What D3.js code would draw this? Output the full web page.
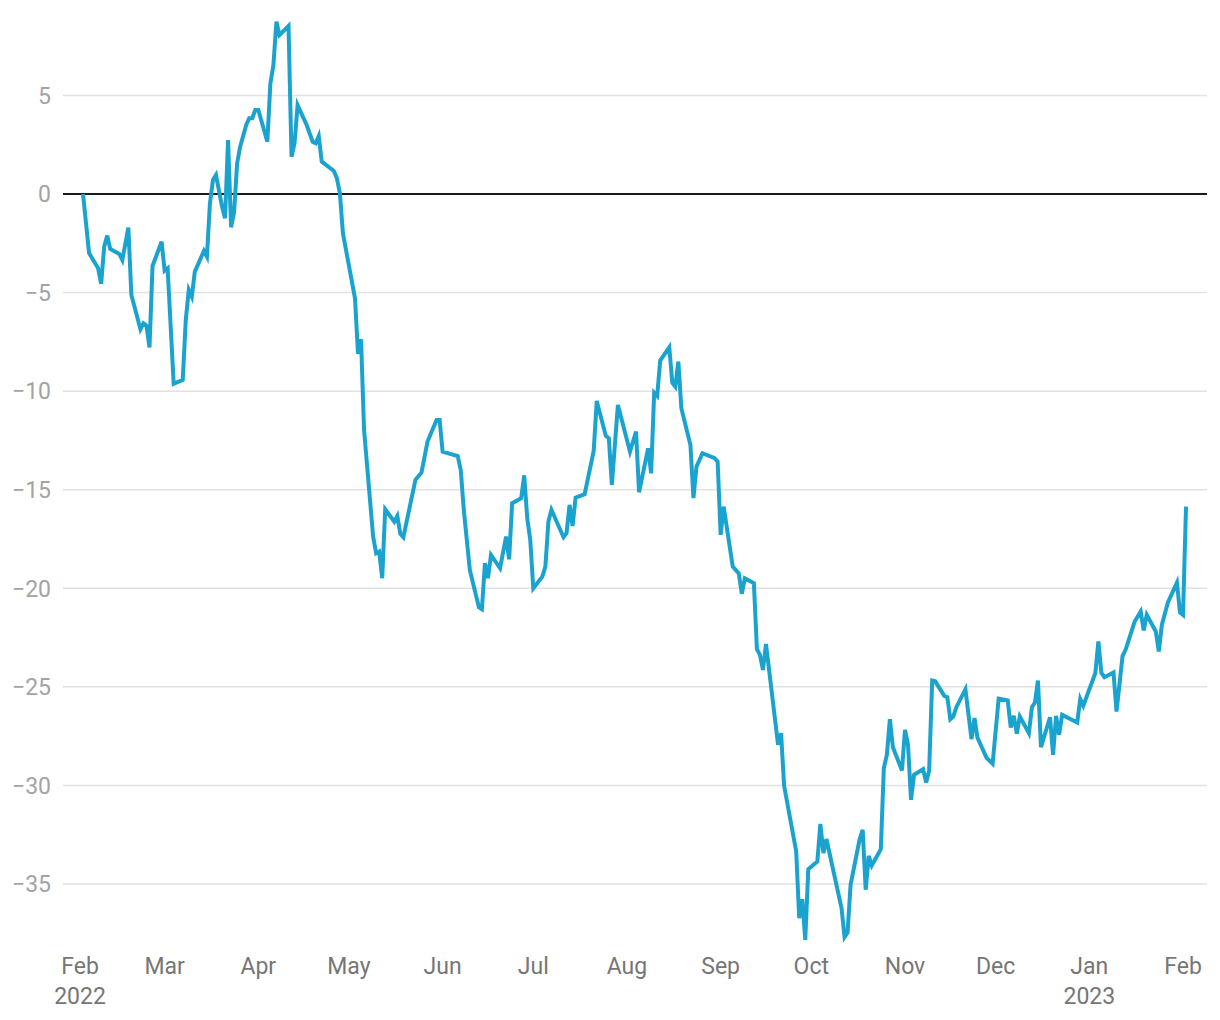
<!DOCTYPE html>
<html>
<head>
<meta charset="utf-8">
<script src="https://cdn.jsdelivr.net/npm/d3@7"></script>
<style>
  html, body { margin: 0; padding: 0; background: #ffffff; }
  svg { display: block; font-family: Roboto, "Noto Sans", Arial, sans-serif; }
</style>
</head>
<body>
<svg id="chart" width="1220" height="1020"></svg>
<script>
// ---- data ----
const dates = [
  "2022-02-02","2022-02-04","2022-02-07","2022-02-08","2022-02-09","2022-02-10","2022-02-11","2022-02-14","2022-02-15","2022-02-17",
  "2022-02-18","2022-02-21","2022-02-22","2022-02-23","2022-02-24","2022-02-25","2022-02-28","2022-03-01","2022-03-02","2022-03-04",
  "2022-03-07","2022-03-08","2022-03-09","2022-03-10","2022-03-11","2022-03-14","2022-03-15","2022-03-16","2022-03-17","2022-03-18",
  "2022-03-20","2022-03-21","2022-03-22","2022-03-23","2022-03-24","2022-03-25","2022-03-26","2022-03-28","2022-03-29","2022-03-30",
  "2022-03-31","2022-04-01","2022-04-04","2022-04-05","2022-04-06","2022-04-07","2022-04-08","2022-04-11","2022-04-12","2022-04-13",
  "2022-04-14","2022-04-17","2022-04-19","2022-04-20","2022-04-21","2022-04-22","2022-04-26","2022-04-27","2022-04-28","2022-04-29",
  "2022-05-03","2022-05-04","2022-05-05","2022-05-06","2022-05-09","2022-05-10","2022-05-11","2022-05-12","2022-05-13","2022-05-16",
  "2022-05-17","2022-05-18","2022-05-19","2022-05-23","2022-05-25","2022-05-27","2022-05-30","2022-05-31","2022-06-01","2022-06-06",
  "2022-06-07","2022-06-08","2022-06-10","2022-06-13","2022-06-14","2022-06-15","2022-06-16","2022-06-17","2022-06-20","2022-06-22",
  "2022-06-23","2022-06-24","2022-06-27","2022-06-28","2022-06-29","2022-06-30","2022-07-01","2022-07-04","2022-07-05","2022-07-06",
  "2022-07-07","2022-07-11","2022-07-12","2022-07-13","2022-07-14","2022-07-15","2022-07-18","2022-07-21","2022-07-22","2022-07-25",
  "2022-07-26","2022-07-27","2022-07-29","2022-08-02","2022-08-04","2022-08-05","2022-08-08","2022-08-09","2022-08-10","2022-08-11",
  "2022-08-12","2022-08-15","2022-08-16","2022-08-17","2022-08-18","2022-08-19","2022-08-22","2022-08-23","2022-08-24","2022-08-26",
  "2022-08-30","2022-08-31","2022-09-01","2022-09-02","2022-09-05","2022-09-07","2022-09-08","2022-09-09","2022-09-12","2022-09-13",
  "2022-09-14","2022-09-15","2022-09-16","2022-09-20","2022-09-21","2022-09-22","2022-09-26","2022-09-27","2022-09-28","2022-09-29",
  "2022-09-30","2022-10-03","2022-10-04","2022-10-05","2022-10-06","2022-10-11","2022-10-12","2022-10-13","2022-10-14","2022-10-17",
  "2022-10-18","2022-10-19","2022-10-20","2022-10-21","2022-10-24","2022-10-25","2022-10-26","2022-10-27","2022-10-28","2022-10-31",
  "2022-11-01","2022-11-02","2022-11-03","2022-11-04","2022-11-07","2022-11-08","2022-11-09","2022-11-10","2022-11-11","2022-11-14",
  "2022-11-15","2022-11-16","2022-11-17","2022-11-18","2022-11-21","2022-11-23","2022-11-24","2022-11-25","2022-11-28","2022-11-30",
  "2022-12-02","2022-12-05","2022-12-06","2022-12-07","2022-12-08","2022-12-09","2022-12-12","2022-12-13","2022-12-14","2022-12-15",
  "2022-12-16","2022-12-19","2022-12-20","2022-12-21","2022-12-22","2022-12-23","2022-12-28","2022-12-29","2022-12-30","2023-01-03",
  "2023-01-04","2023-01-05","2023-01-06","2023-01-09","2023-01-10","2023-01-12","2023-01-13","2023-01-16","2023-01-18","2023-01-19",
  "2023-01-20","2023-01-23","2023-01-24","2023-01-25","2023-01-27","2023-01-30","2023-01-31","2023-02-01","2023-02-02"
];
const values = [
  0.00,-3.00,-3.77,-4.56,-2.67,-2.11,-2.79,-3.04,-3.35,-1.71,
  -5.12,-6.86,-6.56,-6.68,-7.78,-3.65,-2.42,-3.89,-3.77,-9.63,
  -9.43,-6.39,-4.87,-5.21,-3.94,-2.89,-3.18,-0.47,0.71,0.96,
  -0.64,-1.23,2.74,-1.69,-0.90,1.56,2.40,3.50,3.84,3.84,
  4.26,4.26,2.65,5.61,6.54,8.74,8.06,8.52,1.89,2.57,
  4.51,3.50,2.65,2.57,2.94,1.64,1.17,0.80,0.04,-1.99,
  -5.29,-8.11,-7.37,-11.97,-17.38,-18.22,-18.14,-19.49,-15.99,-16.62,
  -16.33,-17.24,-17.41,-14.50,-14.13,-12.56,-11.46,-11.46,-13.07,-13.29,
  -14.00,-16.02,-19.07,-20.96,-21.06,-18.73,-19.49,-18.31,-18.98,-17.38,
  -18.53,-15.69,-15.43,-14.27,-16.45,-17.55,-20.00,-19.41,-18.90,-16.62,
  -16.02,-17.41,-17.21,-15.77,-16.84,-15.40,-15.23,-13.02,-10.50,-12.27,
  -12.39,-14.76,-10.70,-13.07,-12.05,-15.13,-12.90,-14.17,-10.08,-10.24,
  -8.45,-7.78,-9.57,-9.77,-8.50,-10.87,-12.73,-15.43,-13.83,-13.15,
  -13.40,-13.57,-17.29,-15.86,-18.90,-19.24,-20.28,-19.49,-19.74,-23.09,
  -23.38,-24.14,-22.82,-27.94,-27.35,-30.02,-33.35,-36.73,-35.77,-37.83,
  -34.25,-33.86,-31.95,-33.43,-32.72,-36.22,-37.69,-37.46,-35.04,-32.72,
  -32.25,-35.29,-33.57,-34.06,-33.23,-29.12,-28.45,-26.64,-28.06,-29.24,
  -27.18,-27.94,-30.73,-29.46,-29.18,-29.85,-29.24,-24.68,-24.72,-25.46,
  -25.52,-26.64,-26.50,-26.03,-25.12,-27.65,-26.58,-27.59,-28.60,-28.90,
  -25.60,-25.69,-27.06,-26.47,-27.38,-26.50,-27.35,-26.03,-25.80,-24.68,
  -28.06,-26.54,-28.45,-26.47,-27.43,-26.42,-26.81,-25.62,-25.96,-24.30,
  -22.70,-24.30,-24.51,-24.27,-26.25,-23.43,-23.12,-21.69,-21.18,-22.14,
  -21.35,-22.19,-23.21,-21.86,-20.72,-19.71,-21.23,-21.35,-15.86
];
const yTicks = [5, 0, -5, -10, -15, -20, -25, -30, -35];
const xTickDates = ["2022-02-01","2022-03-01","2022-04-01","2022-05-01","2022-06-01","2022-07-01","2022-08-01",
                    "2022-09-01","2022-10-01","2022-11-01","2022-12-01","2023-01-01","2023-02-01"];
const xTickMonths = ["Feb","Mar","Apr","May","Jun","Jul","Aug","Sep","Oct","Nov","Dec","Jan","Feb"];
const xTickYears  = ["2022","","","","","","","","","","","2023",""];

// ---- drawing ----
const parse = d3.timeParse("%Y-%m-%d");
const data = dates.map((d, i) => ({ date: parse(d), value: values[i] }));

const svg = d3.select("#chart");
const x = d3.scaleTime()
  .domain([parse("2022-02-01"), parse("2023-02-01")])
  .range([80, 1183]);
const y = d3.scaleLinear()
  .domain([-35, 5])
  .range([884, 95.4]);

const gridLeft = 63, gridRight = 1207;

// gridlines
svg.append("g").selectAll("line")
  .data(yTicks.filter(t => t !== 0))
  .join("line")
  .attr("x1", gridLeft).attr("x2", gridRight)
  .attr("y1", d => y(d)).attr("y2", d => y(d))
  .attr("stroke", "#e2e2e2").attr("stroke-width", 1.5);

// y labels
const fmt = d3.format("d");
svg.append("g").selectAll("text")
  .data(yTicks)
  .join("text")
  .attr("x", 51).attr("y", d => y(d))
  .attr("dy", "0.36em")
  .attr("text-anchor", "end")
  .attr("font-size", 23)
  .attr("fill", "#a3a3a3")
  .text(d => fmt(d));

// x labels
const xg = svg.append("g");
xTickDates.forEach((ds, i) => {
  xg.append("text")
    .attr("x", x(parse(ds)))
    .attr("y", 974)
    .attr("text-anchor", "middle")
    .attr("font-size", 23)
    .attr("fill", "#767676")
    .text(xTickMonths[i]);
  if (xTickYears[i]) {
    xg.append("text")
      .attr("x", x(parse(ds)))
      .attr("y", 1004)
      .attr("text-anchor", "middle")
      .attr("font-size", 23)
      .attr("fill", "#767676")
      .text(xTickYears[i]);
  }
});

// zero line
svg.append("line")
  .attr("x1", gridLeft).attr("x2", gridRight)
  .attr("y1", y(0)).attr("y2", y(0))
  .attr("stroke", "#1a1a1a").attr("stroke-width", 2);

// series line
const line = d3.line().x(d => x(d.date)).y(d => y(d.value));
svg.append("path")
  .datum(data)
  .attr("d", line)
  .attr("fill", "none")
  .attr("stroke", "#1ba3cf")
  .attr("stroke-width", 4)
  .attr("stroke-linejoin", "miter")
  .attr("stroke-miterlimit", 4);
</script>
</body>
</html>
